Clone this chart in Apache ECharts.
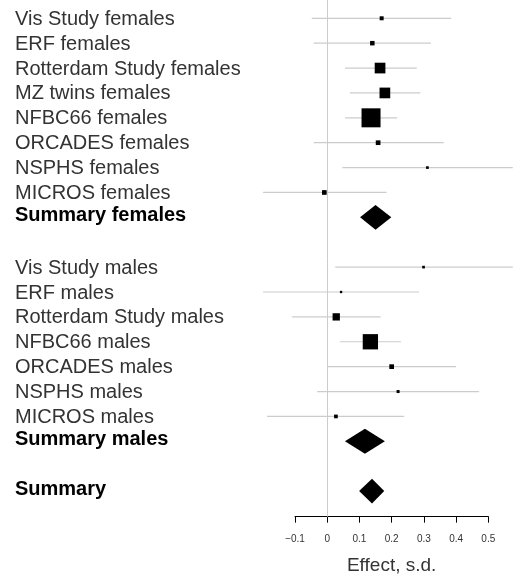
<!DOCTYPE html>
<html>
<head>
<meta charset="utf-8">
<script src="https://cdn.jsdelivr.net/npm/echarts@6/dist/echarts.min.js"></script>
<style>
html,body{margin:0;padding:0;background:#fff;}
#chart{width:515px;height:579px;}
</style>
</head>
<body>
<div id="chart"></div>
<script>
// ---- data ----
const rowLabels = [
  'Vis Study females','ERF females','Rotterdam Study females','MZ twins females',
  'NFBC66 females','ORCADES females','NSPHS females','MICROS females','Summary females',
  '',
  'Vis Study males','ERF males','Rotterdam Study males','NFBC66 males',
  'ORCADES males','NSPHS males','MICROS males','Summary males',
  '',
  'Summary'
];
const effect = [0.169,0.140,0.164,0.179,0.136,0.158,0.311,-0.009,0.150,
  null,
  0.299,0.043,0.028,0.134,0.200,0.220,0.027,0.117,
  null,
  0.139];
const ciLow = [-0.048,-0.042,0.055,0.070,0.055,-0.042,0.047,-0.199,0.102,
  null,
  0.025,-0.199,-0.109,0.039,0.000,-0.031,-0.187,0.055,
  null,
  0.099];
const ciHigh = [0.385,0.322,0.278,0.289,0.217,0.362,0.576,0.184,0.199,
  null,
  0.576,0.285,0.166,0.229,0.400,0.471,0.239,0.179,
  null,
  0.177];
// relative study weights (box area), null for summaries
const weights = [4.4,5.6,31.7,31.7,100,6.1,2.0,6.1,null,
  null,
  2.0,1.5,14.8,64.8,6.1,2.5,3.8,null,
  null,
  null];
const xTicks = [-0.1,0,0.1,0.2,0.3,0.4,0.5];
const xAxisTitle = 'Effect, s.d.';

// ---- build ----
const FONT = "'Liberation Sans', Arial, Helvetica, sans-serif";
const maxW = Math.max(...weights.filter(w => w != null));
const MAX_BOX = 19;

const markData = [];
const labelData = [];
rowLabels.forEach((lab, i) => {
  if (lab) labelData.push([0, i, lab]);
  if (effect[i] != null) {
    markData.push([effect[i], i, ciLow[i], ciHigh[i], weights[i] == null ? -1 : weights[i], lab.indexOf('Summary') === 0 ? 1 : 0]);
  }
});

const chart = echarts.init(document.getElementById('chart'), null, {renderer: 'canvas'});
chart.setOption({
  animation: false,
  backgroundColor: '#fff',
  grid: {left: 295, right: 26.7, top: 0, bottom: 62.3, containLabel: false, outerBoundsMode: 'none'},
  xAxis: {
    type: 'value', min: xTicks[0], max: xTicks[xTicks.length - 1], interval: 0.1,
    position: 'bottom',
    name: xAxisTitle, nameLocation: 'middle', nameGap: 40,
    nameTextStyle: {fontFamily: FONT, fontSize: 19, color: '#333'},
    axisLine: {show: true, onZero: false, lineStyle: {color: '#000', width: 1}},
    axisTick: {show: true, length: 6, inside: false, lineStyle: {color: '#000'}},
    axisLabel: {
      show: true, margin: 18, fontFamily: FONT, fontSize: 10, color: '#333',
      formatter: v => { const r = Math.round(v * 10) / 10; return String(r).replace('-', '\u2212'); }
    },
    splitLine: {show: false}
  },
  yAxis: {
    type: 'value', inverse: true, min: -0.735, max: 20.03,
    show: false, splitLine: {show: false},
    axisLine: {onZero: false}
  },
  series: [
    {
      type: 'custom',
      clip: false,
      data: markData,
      encode: {x: 0, y: 1},
      renderItem: function (params, api) {
        const eff = api.value(0), row = api.value(1), lo = api.value(2), hi = api.value(3);
        const w = api.value(4), summ = api.value(5);
        const c = api.coord([eff, row]);
        const pLo = api.coord([lo, row]);
        const pHi = api.coord([hi, row]);
        const band = api.size([0, 1])[1];
        if (summ === 1) {
          const h = band * 1.0;
          return {
            type: 'polygon',
            shape: {points: [[pLo[0], c[1]], [c[0], c[1] - h / 2], [pHi[0], c[1]], [c[0], c[1] + h / 2]]},
            style: {fill: '#000', stroke: null}
          };
        }
        const side = MAX_BOX * Math.sqrt(w / maxW);
        return {
          type: 'group',
          children: [
            {type: 'line', shape: {x1: pLo[0], y1: c[1], x2: pHi[0], y2: c[1]},
              style: {stroke: '#cccccc', lineWidth: 1.2}},
            {type: 'rect', shape: {x: c[0] - side / 2, y: c[1] - side / 2, width: side, height: side},
              style: {fill: '#000', stroke: null}}
          ]
        };
      },
      markLine: {
        silent: true, symbol: ['none', 'none'], label: {show: false},
        lineStyle: {color: '#cccccc', width: 1, type: 'solid'},
        data: [{xAxis: 0}]
      },
      z: 3
    },
    {
      type: 'custom',
      clip: false,
      data: labelData,
      encode: {y: 1},
      renderItem: function (params, api) {
        const row = api.value(1);
        const lab = labelData[params.dataIndex][2];
        const y = api.coord([0, row])[1];
        const bold = lab.indexOf('Summary') === 0;
        return {
          type: 'text',
          style: {
            text: lab, x: 15, y: y + (bold ? -2 : 1),
            textAlign: 'left', textVerticalAlign: 'middle', verticalAlign: 'middle',
            font: (bold ? 'bold ' : '') + '20px ' + FONT,
            fill: bold ? '#000' : '#333'
          }
        };
      },
      z: 4
    }
  ]
});
</script>
</body>
</html>
